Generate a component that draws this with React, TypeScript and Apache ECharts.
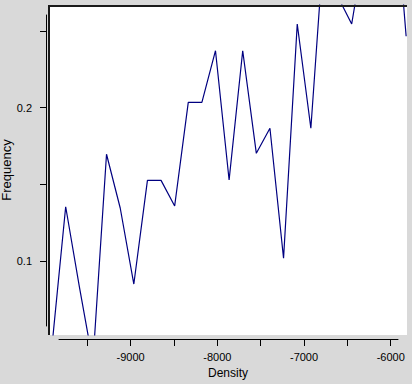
import React, { useEffect, useRef } from "react";
import * as echarts from "echarts";

const densities = [
  -9906, -9749, -9592, -9435, -9278, -9120, -8963, -8806, -8649, -8492, -8335,
  -8178, -8021, -7864, -7707, -7550, -7393, -7236, -7078, -6921, -6764, -6607,
  -6450, -6293, -6136, -5979, -5822,
];
const frequencies = [
  0.0455, 0.1355, 0.0837, 0.0344, 0.1697, 0.1347, 0.0852, 0.1527, 0.1527,
  0.136, 0.2035, 0.2035, 0.2371, 0.1529, 0.2371, 0.1703, 0.1866, 0.102,
  0.2545, 0.1866, 0.312, 0.272, 0.2545, 0.3076, 0.33, 0.3554, 0.2465,
];
const xTicks = [-9500, -9000, -8500, -8000, -7500, -7000, -6500, -6000];
const xLabels = [-9000, -8000, -7000, -6000];
const yTicks = [0.1, 0.15, 0.2, 0.25];
const yLabels = [0.1, 0.2];
const xName = "Density";
const yName = "Frequency";

const FONT = "'Liberation Sans', Arial, Helvetica, sans-serif";

export default function App() {
  const ref = useRef<HTMLDivElement>(null);
  useEffect(() => {
    document.body.style.margin = "0";
    const chart = echarts.init(ref.current!, null, { renderer: "svg" });
    const data = densities.map((d, i) => [d, frequencies[i]]);
    chart.setOption({
      animation: false,
      backgroundColor: "#d9d9d9",
      grid: [
        {
          left: 48,
          top: 5,
          right: 5,
          bottom: 49,
          show: true,
          backgroundColor: "#ffffff",
          borderWidth: 0,
        },
        { left: 59, right: 14, top: 15, bottom: 58, show: false },
      ],
      xAxis: [
        { type: "value", gridIndex: 0, min: -9953, max: -5812, show: false },
        {
          type: "value",
          gridIndex: 1,
          min: -9826.5,
          max: -5916,
          position: "bottom",
          offset: 13,
          axisLine: { show: true, lineStyle: { color: "#000", width: 1 } },
          axisTick: {
            show: true,
            length: 7,
            customValues: xTicks,
            lineStyle: { color: "#000" },
          },
          axisLabel: {
            show: true,
            customValues: xLabels,
            margin: 12,
            color: "#000",
            fontSize: 11,
            fontFamily: FONT,
            formatter: (v: number) => String(v),
          },
          splitLine: { show: false },
        },
      ],
      yAxis: [
        { type: "value", gridIndex: 0, min: 0.05202, max: 0.26686, show: false },
        {
          type: "value",
          gridIndex: 1,
          min: 0.05788,
          max: 0.26035,
          position: "left",
          offset: 13,
          axisLine: { show: true, lineStyle: { color: "#000", width: 1 } },
          axisTick: {
            show: true,
            length: 6,
            customValues: yTicks,
            lineStyle: { color: "#000" },
          },
          axisLabel: {
            show: true,
            customValues: yLabels,
            margin: 14,
            color: "#000",
            fontSize: 11,
            fontFamily: FONT,
            formatter: (v: number) => String(Math.round(v * 100) / 100),
          },
          splitLine: { show: false },
        },
      ],
      series: [
        {
          type: "line",
          xAxisIndex: 0,
          yAxisIndex: 0,
          data,
          showSymbol: false,
          clip: true,
          lineStyle: { color: "#000080", width: 1.2 },
        },
      ],
      graphic: [
        {
          type: "rect",
          z: 100,
          shape: { x: 48, y: 5, width: 359, height: 2 },
          style: { fill: "#1a1a1a" },
        },
        {
          type: "rect",
          z: 100,
          shape: { x: 48, y: 5, width: 2, height: 330 },
          style: { fill: "#1a1a1a" },
        },
        {
          type: "text",
          z: 100,
          x: 6,
          y: 170,
          rotation: Math.PI / 2,
          style: {
            text: yName,
            fill: "#000",
            font: `13px ${FONT}`,
            align: "center",
            verticalAlign: "middle",
          },
        },
        {
          type: "text",
          z: 100,
          x: 228,
          y: 373,
          style: {
            text: xName,
            fill: "#000",
            font: `12px ${FONT}`,
            align: "center",
            verticalAlign: "middle",
          },
        },
      ],
    });
    return () => chart.dispose();
  }, []);
  return <div ref={ref} style={{ width: 412, height: 384 }} />;
}
